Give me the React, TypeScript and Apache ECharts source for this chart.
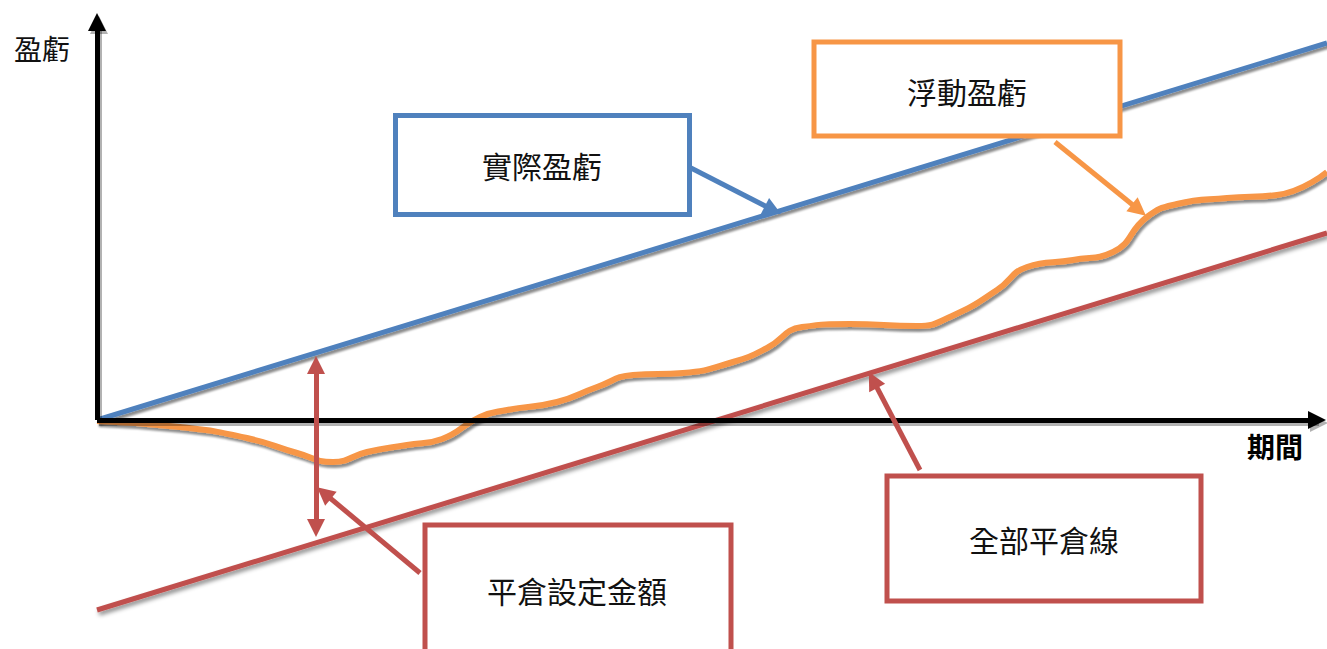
import React, { useEffect, useRef } from "react";
import * as echarts from "echarts";

// Coordinate system: x = period units, y = P&L units
const X_RANGE = [-0.97, 12.3];
const Y_RANGE = [-2.29, 4.2];

const realizedPL = [
  [0, 0],
  [12.3, 3.77],
];
const stopLine = [
  [0, -1.9],
  [12.3, 1.87],
];
const floatingPL = [
  [0, -0.01], [0.83, -0.07], [1.5, -0.18], [2.0, -0.33], [2.36, -0.42],
  [2.7, -0.32], [3.1, -0.25], [3.45, -0.19], [3.83, 0.03], [4.1, 0.1],
  [4.6, 0.18], [5.0, 0.33], [5.36, 0.45], [5.86, 0.47], [6.36, 0.58],
  [6.7, 0.72], [7.05, 0.93], [7.53, 0.96], [8.2, 0.94], [8.55, 1.04],
  [9.0, 1.3], [9.3, 1.53], [9.76, 1.6], [10.16, 1.68], [10.5, 2.03],
  [10.8, 2.16], [11.3, 2.22], [11.8, 2.25], [12.3, 2.48],
];

// axis arrows [start, end]
const xAxisArrow = [[0, 0], [12.2, 0]];
const yAxisArrow = [[0, 0], [0, 3.98]];
const SHADOW_DX = 0.02;
const SHADOW_DY = -0.03;

// callout arrows [from, to]
const blueCallout = [[5.94, 2.52], [6.76, 2.1]];
const orangeCallout = [[9.58, 2.78], [10.42, 2.1]];
const redCallout = [[8.23, -0.5], [7.76, 0.4]];
const stopAmountCallout = [[3.23, -1.53], [2.27, -0.73]];
const stopGap = [[2.19, 0.55], [2.19, -1.08]];

const labels = {
  yAxis: "盈虧",
  xAxis: "期間",
  realized: "實際盈虧",
  floating: "浮動盈虧",
  stopAll: "全部平倉線",
  stopAmount: "平倉設定金額",
};

const BLUE = "#4F81BD";
const ORANGE = "#F79646";
const RED = "#C0504D";
const FONT = "'Noto Sans CJK TC', 'Noto Sans CJK SC', sans-serif";

const shadow = {
  shadowColor: "rgba(0,0,0,0.45)",
  shadowBlur: 2,
  shadowOffsetX: 2,
  shadowOffsetY: 3,
};

function arrowLine(pair: number[][], color: string, width: number, both = false, size = 18) {
  return [
    { coord: pair[0], symbol: both ? "triangle" : "none", symbolSize: size },
    {
      coord: pair[1],
      symbol: "triangle",
      symbolSize: size,
      lineStyle: { color, width, type: "solid" },
      itemStyle: { color },
    },
  ];
}

function offsetPair(pair: number[][]) {
  return pair.map((p) => [p[0] + SHADOW_DX, p[1] + SHADOW_DY]);
}

export default function App() {
  const ref = useRef<HTMLDivElement>(null);
  useEffect(() => {
    document.body.style.margin = "0";
    if (!ref.current) return;
    const chart = echarts.init(ref.current, undefined, { renderer: "svg" });
    const box = (x: number, y: number, w: number, h: number, color: string, text: string, tx: number, ty: number) => [
      {
        type: "rect",
        shape: { x, y, width: w, height: h },
        style: { fill: "#fff", stroke: color, lineWidth: 5 },
        z: 10,
      },
      {
        type: "text",
        x: tx,
        y: ty,
        style: {
          text,
          fontSize: 30,
          fontFamily: FONT,
          fill: "#111",
          align: "center",
          verticalAlign: "middle",
        },
        z: 11,
      },
    ];
    const ml = (data: any[], color: string) => ({
      silent: true,
      animation: false,
      label: { show: false },
      emphasis: { disabled: true },
      lineStyle: { color, width: 5, type: "solid" },
      itemStyle: { color },
      data,
    });
    const SH = "rgba(0,0,0,0.3)";
    chart.setOption({
      animation: false,
      grid: { left: 0, right: 0, top: 0, bottom: 0 },
      xAxis: { type: "value", min: X_RANGE[0], max: X_RANGE[1], show: false },
      yAxis: { type: "value", min: Y_RANGE[0], max: Y_RANGE[1], show: false },
      series: [
        {
          type: "line",
          name: "axes-shadow",
          data: [[0, 0]],
          symbol: "none",
          lineStyle: { width: 0 },
          z: 0,
          markLine: ml(
            [arrowLine(offsetPair(xAxisArrow), SH, 5), arrowLine(offsetPair(yAxisArrow), SH, 5)],
            SH
          ),
        },
        {
          type: "line",
          name: "axes",
          data: [[0, 0]],
          symbol: "none",
          lineStyle: { width: 0 },
          z: 1,
          markLine: ml([arrowLine(xAxisArrow, "#000", 5), arrowLine(yAxisArrow, "#000", 5)], "#000"),
        },
        {
          type: "line",
          name: labels.stopAll,
          data: stopLine,
          symbol: "none",
          z: 2,
          lineStyle: { color: RED, width: 5, ...shadow, shadowBlur: 4 },
        },
        {
          type: "line",
          name: labels.realized,
          data: realizedPL,
          symbol: "none",
          z: 3,
          lineStyle: { color: BLUE, width: 5, ...shadow },
        },
        {
          type: "line",
          name: labels.floating,
          data: floatingPL,
          symbol: "none",
          smooth: 0.5,
          z: 4,
          lineStyle: { color: ORANGE, width: 6, ...shadow },
        },
        {
          type: "line",
          name: "callouts",
          data: [[0, 0]],
          symbol: "none",
          lineStyle: { width: 0 },
          z: 5,
          markLine: ml(
            [
              arrowLine(blueCallout, BLUE, 5),
              arrowLine(orangeCallout, ORANGE, 5),
              arrowLine(redCallout, RED, 5),
              arrowLine(stopAmountCallout, RED, 5),
              arrowLine(stopGap, RED, 5, true),
            ],
            RED
          ),
        },
      ],
      graphic: [
        {
          type: "text",
          x: 42,
          y: 48,
          style: {
            text: labels.yAxis,
            fontSize: 28,
            fontFamily: FONT,
            fill: "#111",
            align: "center",
            verticalAlign: "middle",
          },
        },
        {
          type: "text",
          x: 1275,
          y: 446,
          style: {
            text: labels.xAxis,
            fontSize: 28,
            fontWeight: "bold",
            fontFamily: FONT,
            fill: "#000",
            align: "center",
            verticalAlign: "middle",
          },
        },
        ...box(395.5, 115.5, 294, 99, BLUE, labels.realized, 542, 165),
        ...box(814, 42, 306, 94, ORANGE, labels.floating, 967, 91),
        ...box(887, 476, 314, 125, RED, labels.stopAll, 1044, 539),
        ...box(425, 525, 306, 200, RED, labels.stopAmount, 577, 590),
      ],
    });
    return () => chart.dispose();
  }, []);
  return <div ref={ref} style={{ width: 1327, height: 649 }} />;
}
